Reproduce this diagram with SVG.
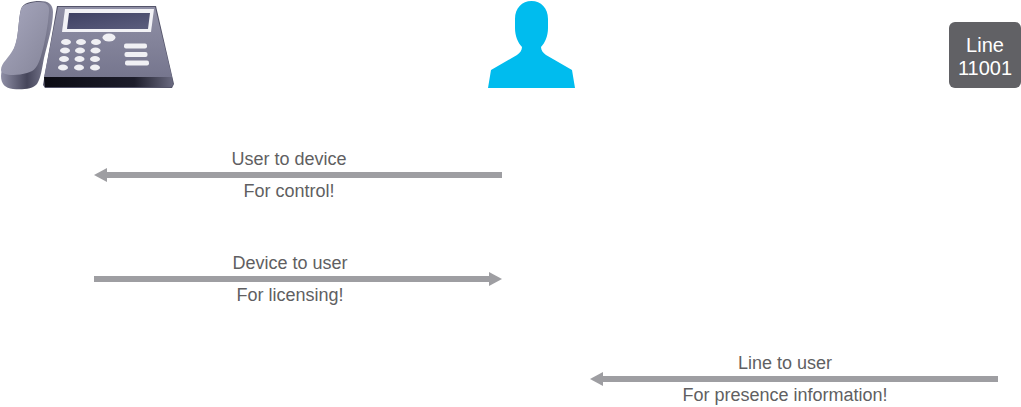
<svg xmlns="http://www.w3.org/2000/svg" width="1021" height="407" viewBox="0 0 1021 407">
<defs>
<linearGradient id="hs" x1="0" y1="0" x2="1" y2="1"><stop offset="0" stop-color="#a9a9c0"/><stop offset="1" stop-color="#858599"/></linearGradient>
<linearGradient id="shell" x1="0" y1="0" x2="1" y2="0"><stop offset="0" stop-color="#8f8fa6"/><stop offset="0.5" stop-color="#45455a"/><stop offset="1" stop-color="#8a8aa0"/></linearGradient>
<linearGradient id="body" x1="0" y1="0" x2="0" y2="1"><stop offset="0" stop-color="#9090a6"/><stop offset="1" stop-color="#76768e"/></linearGradient>
<linearGradient id="scr" x1="0" y1="0" x2="1" y2="1"><stop offset="0" stop-color="#3f4163"/><stop offset="1" stop-color="#5c5e7e"/></linearGradient>
<linearGradient id="edge" x1="0" y1="0" x2="1" y2="0"><stop offset="0" stop-color="#0c0c14"/><stop offset="0.7" stop-color="#1d1d2b"/><stop offset="1" stop-color="#6a6a80"/></linearGradient>
</defs>
<style>
text{font-family:"Liberation Sans",Arial,sans-serif;font-size:18px;fill:#5f5f62;text-anchor:middle}
.c{stroke:#9e9ea2;stroke-width:6;fill:none}
.h{fill:#9e9ea2}
.k{fill:#f0f0f4}
#line text{font-size:20px;fill:#fff}
</style>
<g id="phone">
<path d="M1 76C1 67 9 59 14 49C19 38 18 20 21 9C23 3 31 1 40 1C48 1 53 4 53 12C53 26 48 42 44 58C42 68 41 78 37 84C33 89 22 90 13 89C5 88 1 84 1 76Z" fill="url(#shell)"/>
<path d="M1 70C1 63 9 58 14 48C19 37 18 20 21 9C23 4 31 2 39 2C46 2 50 5 49 12C48 26 45 42 41 56C38 66 35 71 27 73C17 76 1 76 1 70Z" fill="url(#hs)"/>
<path d="M43 85L57 6L156 6L174 84L172 88L45 88Z" fill="#54546a"/>
<path d="M44 77L58 7L155 7L172 77Z" fill="url(#body)"/>
<path d="M44 77L172 77L173 85L171 87L45 87Z" fill="url(#edge)"/>
<path d="M65 9L154 9L151 32L62 32Z" fill="#f2f2f6"/>
<path d="M69 13L150 13L148 29L67 29Z" fill="url(#scr)"/>
<ellipse class="k" cx="109" cy="37.500" rx="6.500" ry="4"/>
<g>
<ellipse class="k" cx="66" cy="42" rx="5" ry="3"/><ellipse class="k" cx="81" cy="42" rx="5" ry="3"/><ellipse class="k" cx="96" cy="42" rx="5" ry="3"/>
<ellipse class="k" cx="65" cy="50.500" rx="5" ry="3"/><ellipse class="k" cx="80" cy="50.500" rx="5" ry="3"/><ellipse class="k" cx="95.500" cy="50.500" rx="5" ry="3"/>
<ellipse class="k" cx="64" cy="59" rx="5" ry="3"/><ellipse class="k" cx="79.500" cy="59" rx="5" ry="3"/><ellipse class="k" cx="95" cy="59" rx="5" ry="3"/>
<ellipse class="k" cx="63" cy="67.500" rx="5" ry="3"/><ellipse class="k" cx="79" cy="67.500" rx="5" ry="3"/><ellipse class="k" cx="95" cy="67.500" rx="5" ry="3"/>
</g>
<rect class="k" x="124" y="43.500" width="23" height="5" rx="2"/>
<rect class="k" x="124.500" y="52" width="23" height="5" rx="2"/>
<rect class="k" x="125" y="60.500" width="24" height="5" rx="2"/>
</g>
<g id="user">
<path d="M488 88L491 70L517 55C520 53 522 50 522 47C518 43 515 36 515 28L515 19C515 8 522 1 531.500 1C541 1 548 8 548 19L548 28C548 36 545 43 541 47C541 50 543 53 546 55L572 70L575 88Z" fill="#00bcee"/>
</g>
<g id="line">
<rect x="949" y="22" width="72" height="66" rx="6" fill="#616165"/>
<text x="985" y="51.500">Line</text>
<text x="985" y="74.500">11001</text>
</g>
<g id="connectors">
<path class="c" d="M104 175H502"/><path class="h" d="M94 175L107 168V182Z"/>
<path class="c" d="M94 279H492"/><path class="h" d="M502 279L489 272V286Z"/>
<path class="c" d="M600 379H998"/><path class="h" d="M590 379L603 372V386Z"/>
</g>
<g id="labels">
<text x="289" y="165">User to device</text>
<text x="289" y="197">For control!</text>
<text x="290" y="269">Device to user</text>
<text x="290" y="301">For licensing!</text>
<text x="785" y="369">Line to user</text>
<text x="785" y="401">For presence information!</text>
</g>
</svg>
